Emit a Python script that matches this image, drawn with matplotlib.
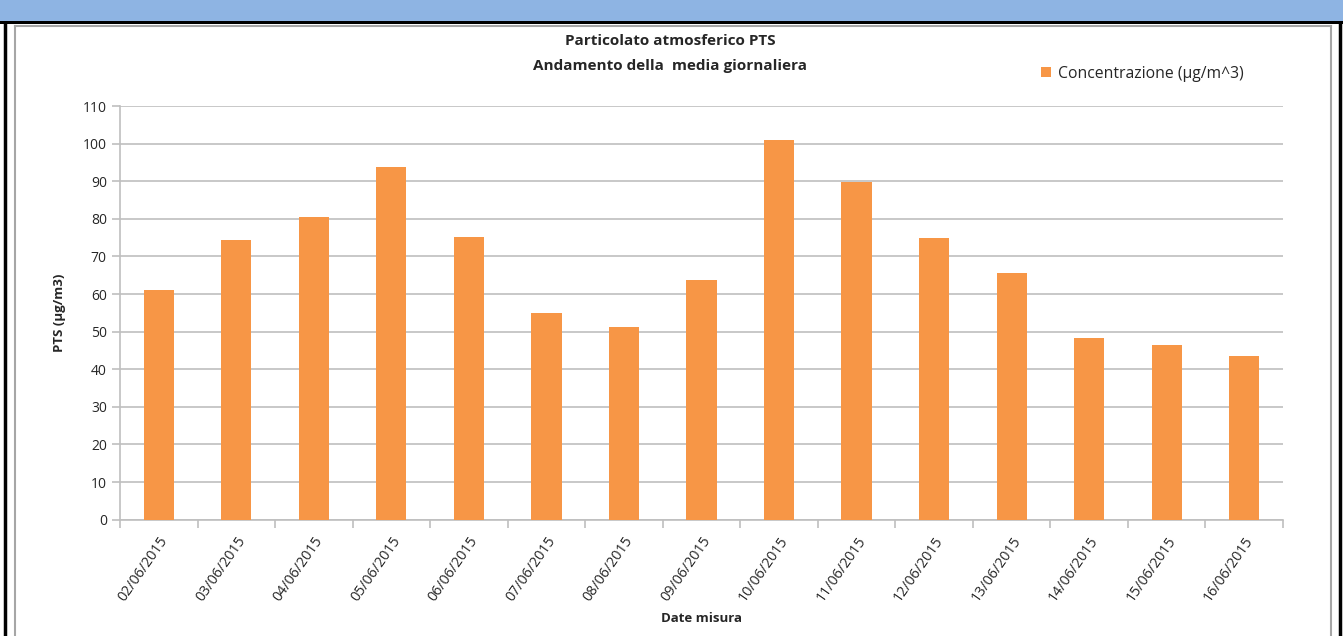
import numpy as np
import matplotlib
matplotlib.use("Agg")
import matplotlib.pyplot as plt
from matplotlib.patches import Rectangle

plt.rcParams["font.family"] = ["Open Sans", "DejaVu Sans"]

dates = ["02/06/2015", "03/06/2015", "04/06/2015", "05/06/2015", "06/06/2015",
         "07/06/2015", "08/06/2015", "09/06/2015", "10/06/2015", "11/06/2015",
         "12/06/2015", "13/06/2015", "14/06/2015", "15/06/2015", "16/06/2015"]
pts = [61.1, 74.5, 80.6, 93.7, 75.1, 55.0, 51.3, 63.7, 101.0, 89.8,
       74.9, 65.5, 48.2, 46.5, 43.4]
yticks = list(range(0, 111, 10))

ORANGE = "#F79646"
GRID = "#BFBFBF"
TXT = "#262626"

fig = plt.figure(figsize=(13.43, 6.36), dpi=100)

# banner strip and frame lines
fig.patches.append(Rectangle((0, 1 - 21 / 636), 1, 21 / 636, transform=fig.transFigure,
                             facecolor="#8EB4E3", edgecolor="none", zorder=0))
fig.patches.append(Rectangle((0, 1 - 24 / 636), 1, 3 / 636, transform=fig.transFigure,
                             facecolor="black", edgecolor="none", zorder=1))
fig.add_artist(plt.Line2D([5 / 1343, 5 / 1343], [0, 1 - 24 / 636], color="black", lw=2.5,
                          transform=fig.transFigure))
fig.add_artist(plt.Line2D([1340 / 1343, 1340 / 1343], [0, 1 - 24 / 636], color="black", lw=2.5,
                          transform=fig.transFigure))
fig.add_artist(plt.Line2D([15 / 1343, 15 / 1343], [0, 1 - 26 / 636], color="#A6A6A6", lw=1.5,
                          transform=fig.transFigure))
fig.add_artist(plt.Line2D([1331 / 1343, 1331 / 1343], [0, 1 - 26 / 636], color="#A6A6A6", lw=1.5,
                          transform=fig.transFigure))
fig.add_artist(plt.Line2D([15 / 1343, 1331 / 1343], [1 - 26 / 636, 1 - 26 / 636], color="#A6A6A6",
                          lw=1.5, transform=fig.transFigure))

ax = fig.add_axes([120 / 1343, 1 - 519.7 / 636, (1283 - 120) / 1343, (519.7 - 106) / 636])
x = np.arange(len(dates))
ax.bar(x, pts, width=0.39, color=ORANGE, zorder=3, label="Concentrazione (µg/m^3)")

ax.set_xlim(-0.5, len(dates) - 0.5)
ax.set_ylim(0, 110)
ax.set_yticks(yticks)
ax.grid(axis="y", color=GRID, lw=1.2, zorder=0)
ax.set_axisbelow(True)
for s in ["top", "right"]:
    ax.spines[s].set_visible(False)
for s in ["left", "bottom"]:
    ax.spines[s].set_color(GRID)
    ax.spines[s].set_linewidth(1.2)

ax.set_xticks(np.arange(-0.5, len(dates), 1))
ax.set_xticklabels([])
ax.set_xticks(x, minor=True)
ax.set_xticklabels(dates, minor=True, rotation=55, ha="right", rotation_mode="anchor",
                   fontsize=10.3, color=TXT)
ax.tick_params(axis="x", which="major", length=6, color=GRID, width=1.2)
ax.tick_params(axis="x", which="minor", length=0, pad=10)
ax.tick_params(axis="y", length=6, color=GRID, width=1.2, labelsize=10, labelcolor=TXT)

ax.set_ylabel("PTS (µg/m3)", fontsize=9.5, fontweight="bold", labelpad=12, color=TXT)
ax.set_xlabel("Date misura", fontsize=9.5, fontweight="bold", labelpad=6, color=TXT)

fig.text(0.499, 1 - 41 / 636, "Particolato atmosferico PTS", ha="center", va="center",
         fontsize=11, fontweight="bold", color=TXT)
fig.text(0.499, 1 - 66 / 636, "Andamento della  media giornaliera", ha="center", va="center",
         fontsize=11, fontweight="bold", color=TXT)

ax.legend(loc="center left", bbox_to_anchor=(1027 / 1343, 1 - 74 / 636),
          bbox_transform=fig.transFigure, frameon=False, fontsize=11.3,
          handlelength=0.6, handleheight=0.6, handletextpad=0.45,
          labelcolor=TXT)

fig.savefig("out.png", dpi=100)
